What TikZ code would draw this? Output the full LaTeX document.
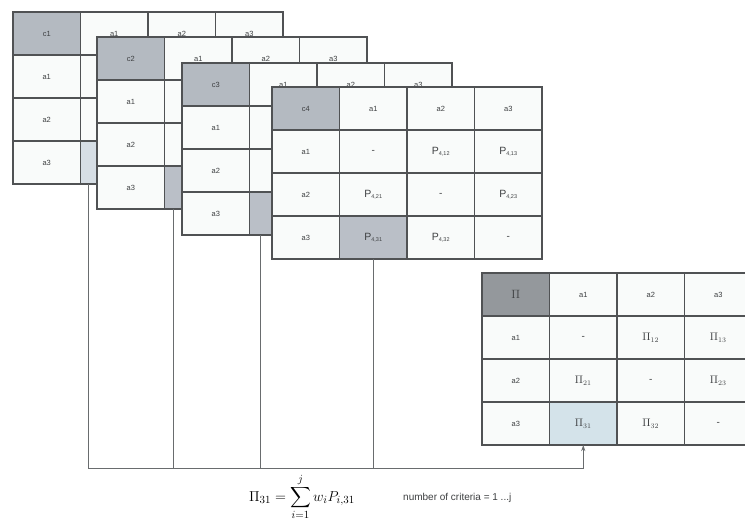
\documentclass[tikz,border=0pt]{standalone}
\usepackage{amsmath}
\usepackage{fontspec}
\setsansfont{Liberation Sans}
\usetikzlibrary{arrows.meta,positioning}

\definecolor{cellline}{RGB}{80,82,84}
\definecolor{cellbg}{RGB}{249,251,250}
\definecolor{cornergray}{RGB}{180,186,193}
\definecolor{pickgray}{RGB}{186,191,199}
\definecolor{picklight}{RGB}{214,222,229}
\definecolor{pigray}{RGB}{148,152,156}
\definecolor{piblue}{RGB}{212,227,234}
\definecolor{celltext}{RGB}{62,64,66}
\definecolor{connline}{RGB}{105,108,110}

\tikzset{
  cell/.style={draw=cellline, line width=1.1pt, fill=cellbg, anchor=north west,
    minimum width=67.5pt, minimum height=43pt, inner sep=0pt, outer sep=0pt,
    font=\fontsize{7.5}{8}\sffamily, text=celltext},
  lbl/.style={font=\fontsize{7.5}{8}\sffamily, text=celltext, inner sep=0pt},
  pival/.style={lbl, font=\fontsize{10.5}{11}\selectfont},
  nil/.style={lbl, font=\fontsize{10}{11}\sffamily},
  conn/.style={draw=connline, line width=1pt},
}

\newcommand{\pcell}[1]{{\fontsize{10.5}{11}\selectfont P}\raisebox{-1.5pt}{\fontsize{5.5}{6}\selectfont #1}}

% one comparison table: name, corner text, x, y, corner fill, pick fill
\newcommand{\critable}[6]{%
  \foreach \r in {0,...,3}
    \foreach \c in {0,...,3}
      \node[cell] (#1-\r-\c) at ({#3+\c*67.5},{#4+\r*43}) {};
  \node[cell, fill=#6] (#1-pick) at (#1-3-1.north west) {};
  \node[cell, fill=#5] (#1-corner) at (#1-0-0.north west) {#2};
  \foreach \lbl [count=\i] in {a1,a2,a3} {
    \node[lbl] (#1-top-\i) at (#1-0-\i) {\lbl};
    \node[lbl] (#1-side-\i) at (#1-\i-0) {\lbl};
  }%
}

\begin{document}
\begin{tikzpicture}[x=1pt,y=-1pt]
  \useasboundingbox[fill=white] (0,0) rectangle (745,523);

  % Stack of criterion tables
  \critable{t1}{c1}{13}{12}{cornergray}{picklight}
  \critable{t2}{c2}{97}{37}{cornergray}{pickgray}
  \critable{t3}{c3}{182}{63}{cornergray}{pickgray}
  \critable{t4}{c4}{272}{87}{cornergray}{pickgray}

  % Pairwise values of criterion 4
  \node[nil] (t4-v11) at (t4-1-1) {-};
  \node[lbl] (t4-v12) at (t4-1-2) {\pcell{4,12}};
  \node[lbl] (t4-v13) at (t4-1-3) {\pcell{4,13}};
  \node[lbl] (t4-v21) at (t4-2-1) {\pcell{4,21}};
  \node[nil] (t4-v22) at (t4-2-2) {-};
  \node[lbl] (t4-v23) at (t4-2-3) {\pcell{4,23}};
  \node[lbl] (t4-v31) at (t4-3-1) {\pcell{4,31}};
  \node[lbl] (t4-v32) at (t4-3-2) {\pcell{4,32}};
  \node[nil] (t4-v33) at (t4-3-3) {-};

  % Aggregated table
  \critable{pi}{{\fontsize{12}{13}\selectfont$\Pi$}}{482}{273}{pigray}{piblue}
  \node[nil] (pi-v11) at (pi-1-1) {-};
  \node[pival] (pi-v12) at (pi-1-2) {$\Pi_{12}$};
  \node[pival] (pi-v13) at (pi-1-3) {$\Pi_{13}$};
  \node[pival] (pi-v21) at (pi-2-1) {$\Pi_{21}$};
  \node[nil] (pi-v22) at (pi-2-2) {-};
  \node[pival] (pi-v23) at (pi-2-3) {$\Pi_{23}$};
  \node[pival] (pi-v31) at (pi-3-1) {$\Pi_{31}$};
  \node[pival] (pi-v32) at (pi-3-2) {$\Pi_{32}$};
  \node[nil] (pi-v33) at (pi-3-3) {-};

  % Collecting lines
  \coordinate (bus) at ([yshift=-23pt]pi-3-1.south);
  \coordinate (d2) at ([xshift=9pt]t2-3-1.south west);
  \coordinate (d3) at ([xshift=11pt]t3-3-1.south west);
  \draw[conn, -{Stealth[length=6pt,width=4pt]}] ([xshift=8pt]t1-3-1.south west)
    |- (bus) -- (pi-3-1.south);
  \draw[conn] (d2) -- (d2 |- bus);
  \draw[conn] (d3) -- (d3 |- bus);
  \draw[conn] (t4-3-1.south) -- (t4-3-1.south |- bus);

  % Weighted sum
  \node[inner sep=1pt] (sumeq) at (302,497)
    {\fontsize{15.5}{17}\selectfont $\displaystyle \Pi_{31} = \sum_{i=1}^{j} w_i P_{i,31}$};
  \node[lbl, anchor=west, font=\fontsize{10}{12}\sffamily] (crit) at (403,498)
    {number of criteria = 1 ...j};

\end{tikzpicture}
\end{document}
